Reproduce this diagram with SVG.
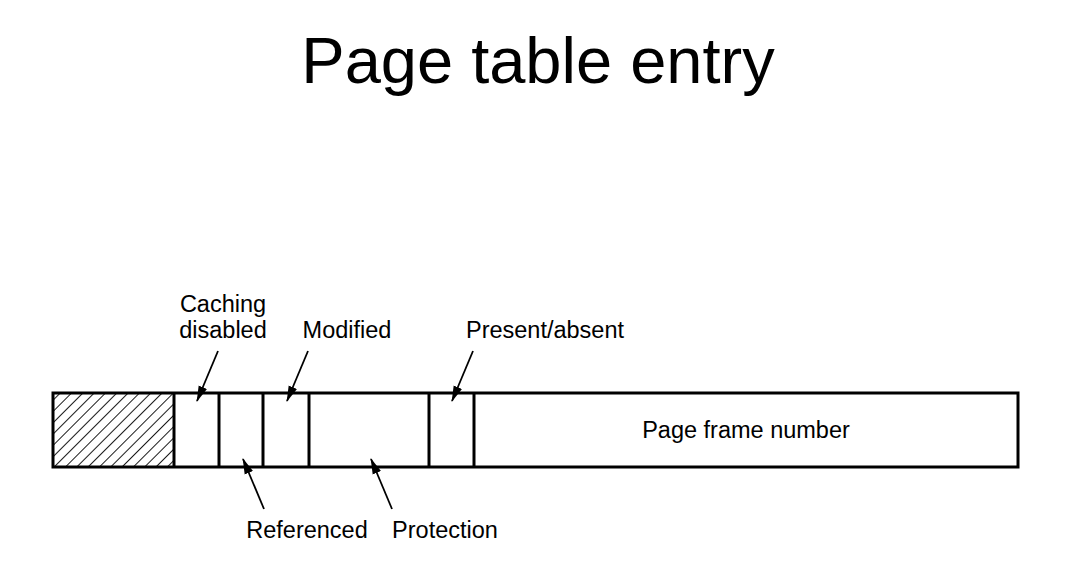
<svg xmlns="http://www.w3.org/2000/svg" width="1070" height="574" viewBox="0 0 1070 574">
<style>
text{font-family:"Liberation Sans",Arial,sans-serif;fill:#000}
.lbl{font-size:23.5px}
.title{font-size:65px}
.box{fill:none;stroke:#000;stroke-width:3}
.conn line{stroke:#000;stroke-width:1.8}
</style>
<defs>
<pattern id="hatch" patternUnits="userSpaceOnUse" width="8" height="8" patternTransform="rotate(45)">
<line x1="0" y1="0" x2="0" y2="8" stroke="#000" stroke-width="1.8"/>
</pattern>
<marker id="ah" markerWidth="16" markerHeight="10" refX="15" refY="5" orient="auto" markerUnits="userSpaceOnUse">
<path d="M0,0.5 L16,5 L0,9.5 Z" fill="#000"/>
</marker>
</defs>
<rect width="1070" height="574" fill="#fff"/>
<text class="title" x="538" y="83" text-anchor="middle">Page table entry</text>
<g id="entry">
<rect x="53" y="393" width="121" height="74" fill="url(#hatch)"/>
<rect class="box" x="53" y="393" width="965" height="74"/>
<line class="box" x1="174" y1="393" x2="174" y2="467"/>
<line class="box" x1="219" y1="393" x2="219" y2="467"/>
<line class="box" x1="263" y1="393" x2="263" y2="467"/>
<line class="box" x1="309" y1="393" x2="309" y2="467"/>
<line class="box" x1="429" y1="393" x2="429" y2="467"/>
<line class="box" x1="474" y1="393" x2="474" y2="467"/>
<text class="lbl" x="746" y="438" text-anchor="middle">Page frame number</text>
</g>
<g id="caching"><text class="lbl" x="223" y="312" text-anchor="middle">Caching</text><text class="lbl" x="223" y="338" text-anchor="middle">disabled</text></g>
<g id="modified"><text class="lbl" x="347" y="338" text-anchor="middle">Modified</text></g>
<g id="present"><text class="lbl" x="545" y="338" text-anchor="middle">Present/absent</text></g>
<g id="referenced"><text class="lbl" x="307" y="538" text-anchor="middle">Referenced</text></g>
<g id="protection"><text class="lbl" x="445" y="538" text-anchor="middle">Protection</text></g>
<g class="conn" id="connectors">
<line x1="218" y1="351" x2="197" y2="401" marker-end="url(#ah)"/>
<line x1="308" y1="351" x2="287" y2="401" marker-end="url(#ah)"/>
<line x1="473" y1="351" x2="452" y2="401" marker-end="url(#ah)"/>
<line x1="264" y1="509" x2="243" y2="459" marker-end="url(#ah)"/>
<line x1="392" y1="509" x2="371" y2="459" marker-end="url(#ah)"/>
</g>
</svg>
